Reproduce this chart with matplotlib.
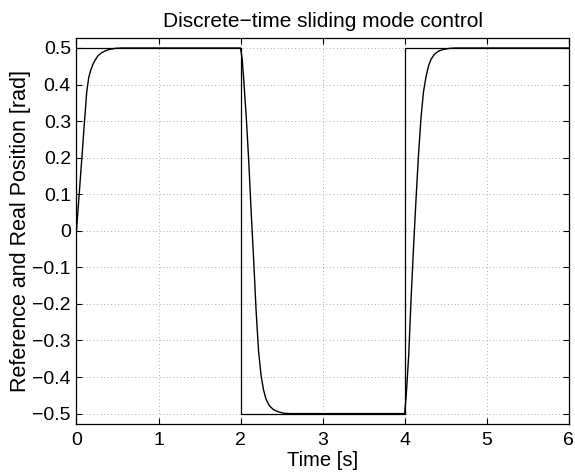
import numpy as np
import matplotlib.pyplot as plt

plt.rcParams['font.family'] = ['Liberation Sans', 'DejaVu Sans']

# --- Data ---
# reference square wave [rad]
t_ref = [0, 2, 2, 4, 4, 6]
y_ref = [0.5, 0.5, -0.5, -0.5, 0.5, 0.5]

# measured position [rad]
t_pos = [0.00, 0.033, 0.066, 0.098, 0.125, 0.15, 0.175, 0.20, 0.23, 0.26, 0.30, 0.35, 0.40, 0.47, 0.55,
         2.00, 2.02, 2.04, 2.07, 2.10, 2.13, 2.16, 2.19, 2.22, 2.25, 2.28, 2.31, 2.35, 2.40, 2.46, 2.53, 2.60,
         4.00, 4.02, 4.05, 4.08, 4.11, 4.14, 4.17, 4.20, 4.23, 4.26, 4.29, 4.32, 4.36, 4.41, 4.47, 4.55, 4.62,
         6.00]
y_pos = [0.000, 0.100, 0.200, 0.300, 0.380, 0.420, 0.440, 0.455, 0.468, 0.478, 0.486, 0.492, 0.496, 0.499, 0.500,
         0.500, 0.470, 0.410, 0.310, 0.190, 0.050, -0.080, -0.220, -0.330, -0.395, -0.435, -0.460, -0.478,
         -0.489, -0.495, -0.499, -0.500,
         -0.500, -0.450, -0.340, -0.180, -0.040, 0.090, 0.210, 0.310, 0.380, 0.420, 0.450, 0.468, 0.482,
         0.491, 0.496, 0.499, 0.500,
         0.500]

x_ticks = [0, 1, 2, 3, 4, 5, 6]
y_ticks = [-0.5, -0.4, -0.3, -0.2, -0.1, 0, 0.1, 0.2, 0.3, 0.4, 0.5]
y_labels = ['\u22120.5', '\u22120.4', '\u22120.3', '\u22120.2', '\u22120.1', '0',
            '0.1', '0.2', '0.3', '0.4', '0.5']

fig = plt.figure(figsize=(5.75, 4.72), dpi=100)
ax = fig.add_axes([0.133, 0.102, 0.856, 0.818])

ax.plot(t_ref, y_ref, color='k', lw=0.9)
ax.plot(t_pos, y_pos, color='k', lw=1.0)

ax.set_xlim(0, 6)
ax.set_ylim(-0.528, 0.528)
ax.set_xticks(x_ticks)
ax.set_yticks(y_ticks)
ax.set_yticklabels(y_labels)
ax.tick_params(direction='in', top=True, right=True, length=4, width=0.8, labelsize=14, pad=4)
ax.tick_params(axis='x', pad=6)
ax.grid(True, color='k', linestyle=(0, (1, 4)), lw=0.5, alpha=0.6)
for s in ax.spines.values():
    s.set_linewidth(0.9)

ax.set_title('Discrete\u2212time sliding mode control', fontsize=15, pad=8)
ax.set_xlabel('Time [s]', fontsize=14.5, labelpad=1)
ax.set_ylabel('Reference and Real Position [rad]', fontsize=15.5, labelpad=1)

fig.savefig('out.png', dpi=100)
